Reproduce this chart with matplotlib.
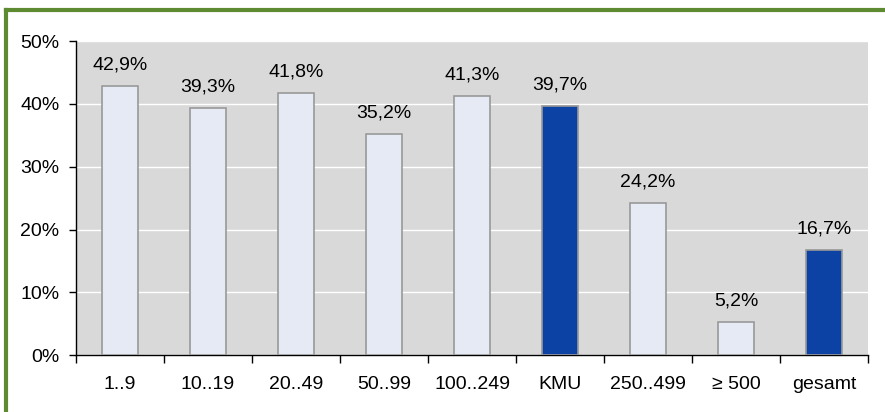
import numpy as np
import matplotlib.pyplot as plt
from matplotlib.lines import Line2D

# Data
categories = ['1..9', '10..19', '20..49', '50..99', '100..249', 'KMU', '250..499', '≥ 500', 'gesamt']
values = [42.9, 39.3, 41.8, 35.2, 41.3, 39.7, 24.2, 5.2, 16.7]
highlight = [False, False, False, False, False, True, False, False, True]

plt.rcParams['font.family'] = ['Liberation Sans', 'DejaVu Sans']

fig = plt.figure(figsize=(8.85, 4.12), dpi=100)
ax = fig.add_axes([0.0859, 0.138, 0.8949, 0.762])
ax.set_facecolor('#D9D9D9')

x = np.arange(len(categories))
colors = ['#0B42A3' if h else '#E6EAF5' for h in highlight]
bars = ax.bar(x, values, width=0.41, color=colors, edgecolor='#999999', linewidth=1.2, zorder=3)

# value labels above the bars
for xi, v in zip(x, values):
    ax.annotate(f'{v:.1f}%'.replace('.', ','), (xi, v), xytext=(0, 9),
                textcoords='offset points', ha='center', va='bottom', fontsize=14)

ax.set_xlim(-0.5, len(categories) - 0.5)
ax.set_ylim(0, 50)
ax.set_yticks(range(0, 51, 10))
ax.set_yticklabels([f'{t}%' for t in range(0, 51, 10)])
ax.grid(axis='y', color='white', linewidth=1, zorder=0)
ax.set_axisbelow(True)

# ticks at category boundaries, labels at centers
ax.set_xticks(np.arange(-0.5, len(categories), 1))
ax.set_xticklabels([])
ax.set_xticks(x, minor=True)
ax.set_xticklabels(categories, minor=True)
ax.tick_params(axis='x', which='major', length=6, width=1, direction='out')
ax.tick_params(axis='x', which='minor', length=0, pad=15, labelsize=14)
ax.tick_params(axis='y', length=5, width=1, pad=7, labelsize=14)

for s in ['top', 'right']:
    ax.spines[s].set_visible(False)
for s in ['left', 'bottom']:
    ax.spines[s].set_color('black')
    ax.spines[s].set_linewidth(1)

# green frame (top and left edges)
green = '#5E8A32'
fig.add_artist(Line2D([5.5 / 885, 1], [1 - 10 / 412, 1 - 10 / 412], color=green, linewidth=3, transform=fig.transFigure))
fig.add_artist(Line2D([5.5 / 885, 5.5 / 885], [0, 1 - 10 / 412], color=green, linewidth=3, transform=fig.transFigure))

plt.savefig('out.png', dpi=100)
